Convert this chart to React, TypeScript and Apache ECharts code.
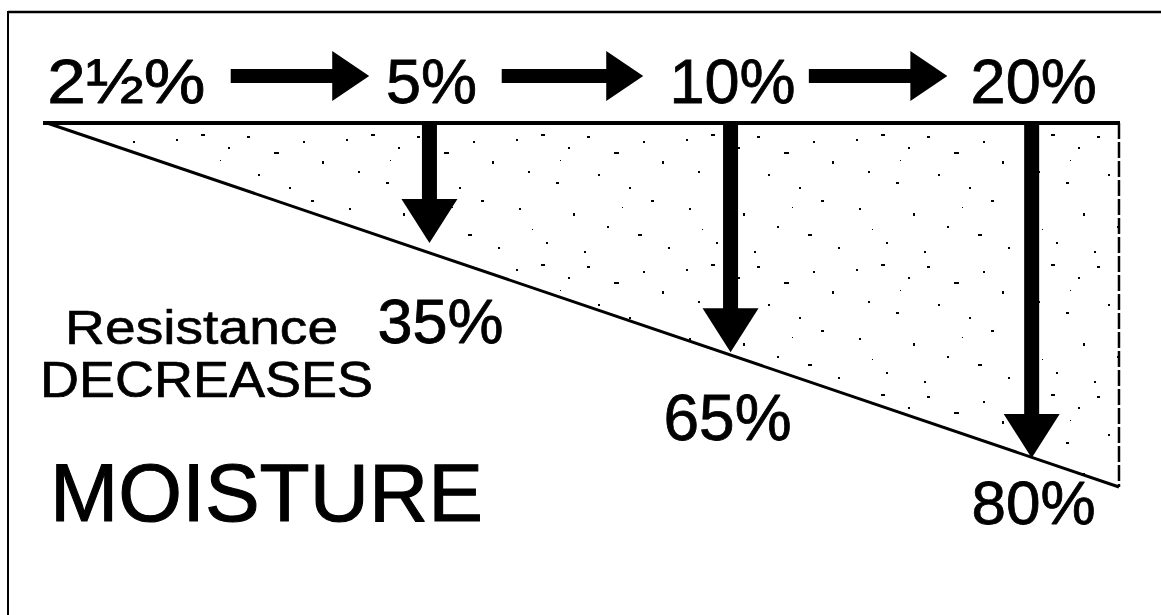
import React, { useEffect, useRef } from "react";
import * as echarts from "echarts";

// Moisture content stages, left to right (x axis = stage index)
const moistureLevels = ["2½%", "5%", "10%", "20%"];
// Decrease in resistance reached at stages 2, 3 and 4
const resistanceDecrease = ["35%", "65%", "80%"];
const resistanceStages = [1, 2, 3];
// How far each down-arrow reaches into the wedge (depth units, 0 = top edge, 100 = wedge bottom)
const arrowTipDepth = [33, 63, 92];
// Horizontal "moisture rises" arrows: start and end, in stage units
const flowArrowFrom = [0.34, 1.24, 2.26];
const flowArrowTo = [0.8, 1.71, 2.72];
// Wedge extent (stage units) and depth
const wedgeX = [-0.27, 3.29];
const wedgeDepth = [0, 100];

const FONT = '"Liberation Sans", Arial, Helvetica, sans-serif';

function makeStipple(): HTMLCanvasElement {
  const c = document.createElement("canvas");
  c.width = 170;
  c.height = 130;
  const ctx = c.getContext("2d")!;
  ctx.fillStyle = "#000";
  // hand-placed speckles: [x, y, w, h]
  const specks: number[][] = [
    [6, 9, 2, 2], [31, 4, 4, 2], [58, 17, 2, 2], [77, 6, 3, 2], [104, 22, 5, 2],
    [133, 11, 2, 2], [152, 31, 2, 3], [18, 41, 2, 2], [46, 52, 3, 2], [88, 44, 2, 2],
    [119, 57, 2, 2], [141, 70, 3, 2], [9, 78, 2, 2], [63, 83, 2, 3], [97, 96, 2, 2],
    [128, 104, 4, 2], [36, 112, 2, 2], [74, 121, 2, 2], [158, 117, 2, 2], [22, 99, 1, 1],
    [112, 77, 1, 1], [50, 30, 1, 1],
  ];
  for (const [x, y, w, h] of specks) ctx.fillRect(x, y, w, h);
  return c;
}

export default function App() {
  const ref = useRef<HTMLDivElement>(null);

  useEffect(() => {
    if (!ref.current) return;
    const chart = echarts.init(ref.current, undefined, { renderer: "svg" });
    const stipple = makeStipple();

    const textStyle = (text: string, fontSize: number, align: string) => ({
      text,
      fontSize,
      fontFamily: FONT,
      fill: "#000",
      stroke: "#000",
      lineWidth: Math.round(fontSize * 0.013 * 10) / 10,
      align,
      verticalAlign: "middle",
    });

    const option: any = {
      animation: false,
      backgroundColor: "#fff",
      grid: { left: 38, right: 39, top: 123, bottom: 128 },
      xAxis: { type: "value", min: -0.3, max: 3.3, show: false },
      yAxis: { type: "value", min: 0, max: 100, inverse: true, show: false },
      graphic: [
        { type: "line", shape: { x1: 8, y1: 12, x2: 1161, y2: 12 }, style: { stroke: "#000", lineWidth: 2.5 } },
        { type: "line", shape: { x1: 8, y1: 11, x2: 8, y2: 615 }, style: { stroke: "#000", lineWidth: 2 } },
      ],
      series: [
        // Wedge
        {
          type: "custom",
          clip: false,
          data: [[wedgeX[0], wedgeX[1], wedgeDepth[0], wedgeDepth[1]]],
          renderItem: (params: any, api: any) => {
            const a = api.coord([api.value(0), api.value(2)]);
            const b = api.coord([api.value(1), api.value(2)]);
            const c = api.coord([api.value(1), api.value(3)]);
            return {
              type: "group",
              children: [
                { type: "polygon", shape: { points: [a, b, c] }, style: { fill: { image: stipple, repeat: "repeat" }, stroke: "none" } },
                { type: "line", shape: { x1: a[0] - 4, y1: a[1], x2: b[0] + 1, y2: b[1] }, style: { stroke: "#000", lineWidth: 4 } },
                { type: "line", shape: { x1: a[0], y1: a[1], x2: c[0], y2: c[1] }, style: { stroke: "#000", lineWidth: 3 } },
                { type: "line", shape: { x1: b[0], y1: b[1], x2: c[0], y2: c[1] }, style: { stroke: "#000", lineWidth: 2.5, lineDash: [16, 3] } },
              ],
            };
          },
        },
        // Down arrows (resistance decrease)
        {
          type: "custom",
          clip: false,
          data: resistanceStages.map((s, i) => [s, arrowTipDepth[i]]),
          renderItem: (params: any, api: any) => {
            const top = api.coord([api.value(0), 0]);
            const tip = api.coord([api.value(0), api.value(1)]);
            const x = tip[0];
            const ty = tip[1];
            const y0 = top[1] + 1;
            const sw = 7.5, hw = 28, hl = 44;
            return {
              type: "polygon",
              shape: {
                points: [
                  [x - sw, y0], [x + sw, y0], [x + sw, ty - hl], [x + hw, ty - hl],
                  [x, ty], [x - hw, ty - hl], [x - sw, ty - hl],
                ],
              },
              style: { fill: "#000" },
            };
          },
        },
        // Horizontal arrows (moisture increases)
        {
          type: "custom",
          clip: false,
          data: flowArrowFrom.map((f, i) => [f, flowArrowTo[i]]),
          renderItem: (params: any, api: any) => {
            const p0 = api.coord([api.value(0), -12.9]);
            const p1 = api.coord([api.value(1), -12.9]);
            const y = p0[1];
            const sh = 7, hh = 25, hl = 37;
            const x0 = p0[0], x1 = p1[0];
            return {
              type: "polygon",
              shape: {
                points: [
                  [x0, y - sh], [x1 - hl, y - sh], [x1 - hl, y - hh], [x1, y],
                  [x1 - hl, y + hh], [x1 - hl, y + sh], [x0, y + sh],
                ],
              },
              style: { fill: "#000" },
            };
          },
        },
        // Moisture level labels
        {
          type: "custom",
          clip: false,
          data: moistureLevels.map((_, i) => [i, -11.5]),
          renderItem: (params: any, api: any) => {
            const p = api.coord([api.value(0), api.value(1)]);
            const label = moistureLevels[params.dataIndex];
            const first = params.dataIndex === 0;
            return {
              type: "text",
              x: p[0] + (first ? -2 : 2),
              y: p[1],
              scaleX: first ? 1.1 : 1,
              style: textStyle(label, 63, "center"),
            };
          },
        },
        // Resistance decrease labels
        {
          type: "custom",
          clip: false,
          data: resistanceStages.map((s, i) => [s, arrowTipDepth[i]]),
          renderItem: (params: any, api: any) => {
            const p = api.coord([api.value(0), api.value(1)]);
            const dx = [11, -3, 2][params.dataIndex];
            const dy = [78, 66, 45][params.dataIndex];
            const fs = [63, 64, 62][params.dataIndex];
            return {
              type: "text",
              x: p[0] + dx,
              y: p[1] + dy,
              style: textStyle(resistanceDecrease[params.dataIndex], fs, "center"),
            };
          },
        },
        // Caption words
        {
          type: "custom",
          clip: false,
          data: [[-0.21, 56.2], [-0.293, 70.6], [-0.26, 101.4]],
          renderItem: (params: any, api: any) => {
            const p = api.coord([api.value(0), api.value(1)]);
            const words = ["Resistance", "DECREASES", "MOISTURE"];
            const sizes = [48, 50, 82];
            const sx = [1.15, 1.08, 1.0];
            return {
              type: "text",
              x: p[0],
              y: p[1],
              scaleX: sx[params.dataIndex],
              style: textStyle(words[params.dataIndex], sizes[params.dataIndex], "left"),
            };
          },
        },
      ],
    };

    chart.setOption(option);
    return () => chart.dispose();
  }, []);

  return (
    <div
      ref={ref}
      style={{ position: "absolute", left: 0, top: 0, width: 1161, height: 615, background: "#fff" }}
    />
  );
}
